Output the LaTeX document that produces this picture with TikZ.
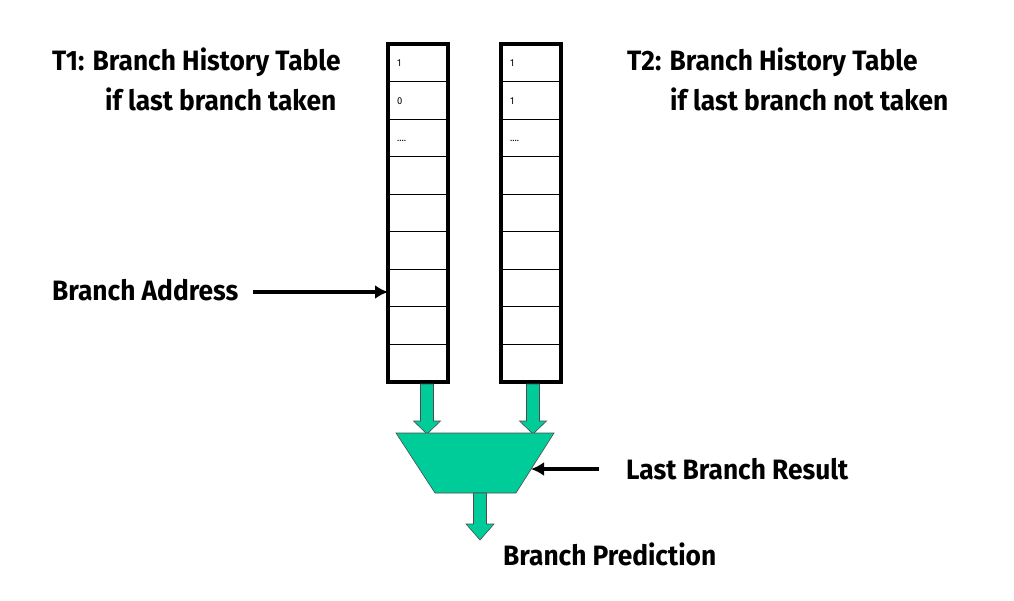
\documentclass[tikz,border=0pt]{standalone}
\usepackage{fontspec}
\setmainfont[FakeStretch=0.94]{Fira Sans}
\usetikzlibrary{calc,arrows.meta}
\definecolor{mint}{RGB}{0,204,153}
\tikzset{
  lbl/.style={anchor=base west,inner sep=0pt,font=\bfseries\fontsize{28}{32}\selectfont},
  cell/.style={font=\fontsize{10}{11}\selectfont,anchor=base west,inner sep=0pt},
  tbl/.style={draw=black,line width=4pt,fill=white},
  rowline/.style={draw=black,line width=1.2pt},
  blk/.style={draw=black!70,line width=0.6pt,fill=mint},
  thinarrow/.style={line width=3.5pt,-{Latex[length=13pt,width=14pt]}},
}
\begin{document}
\begin{tikzpicture}[x=1pt,y=-1pt]
\useasboundingbox (0,0) rectangle (1014,600);
% tables
\foreach \t/\xl in {A/388,B/501}{
  \draw[tbl] (\xl,44) rectangle (\xl+60,382);
  \foreach \i in {1,...,8}{
    \draw[rowline] (\xl,44+\i*37.55) -- (\xl+60,44+\i*37.55);
  }
  \coordinate (\t top) at (\xl,44);
}
\node[cell] (a1) at (397,66) {1};
\node[cell] (a2) at (397,104) {0};
\node[cell] (a3) at (397,141) {....};
\node[cell] (b1) at (510,66) {1};
\node[cell] (b2) at (510,104) {1};
\node[cell] (b3) at (510,141) {....};
\coordinate (arow) at (388,292);
% labels
\node[lbl] (t1) at (52,70) {T1: Branch History Table};
\node[lbl] (t1b) at (105,110) {if last branch taken};
\node[lbl] (t2) at (627,70) {T2: Branch History Table};
\node[lbl] (t2b) at (670,110) {if last branch not taken};
\node[lbl] (ba) at (52,300) {Branch Address};
\node[lbl] (lbr) at (626,479) {Last Branch Result};
\node[lbl] (bp) at (503,565) {Branch Prediction};
% green down arrows
\foreach \cx in {427,533}{
  \draw[blk] (\cx-6.5,384) -- (\cx+6.5,384) -- (\cx+6.5,421) -- (\cx+13.5,421) -- (\cx,434) -- (\cx-13.5,421) -- (\cx-6.5,421) -- cycle;
}
% mux
\draw[blk] (396,433) -- (554,433) -- (516,493) -- (435,493) -- cycle;
\coordinate (muxr) at (531,469);
\draw[blk] (473.5,493) -- (486.5,493) -- (486.5,524) -- (494,524) -- (480,540) -- (466,524) -- (473.5,524) -- cycle;
% black arrows
\draw[thinarrow] ([xshift=14pt]ba.east |- arow) -- (arow);
\draw[thinarrow] (599,469) -- (muxr);
\end{tikzpicture}
\end{document}
